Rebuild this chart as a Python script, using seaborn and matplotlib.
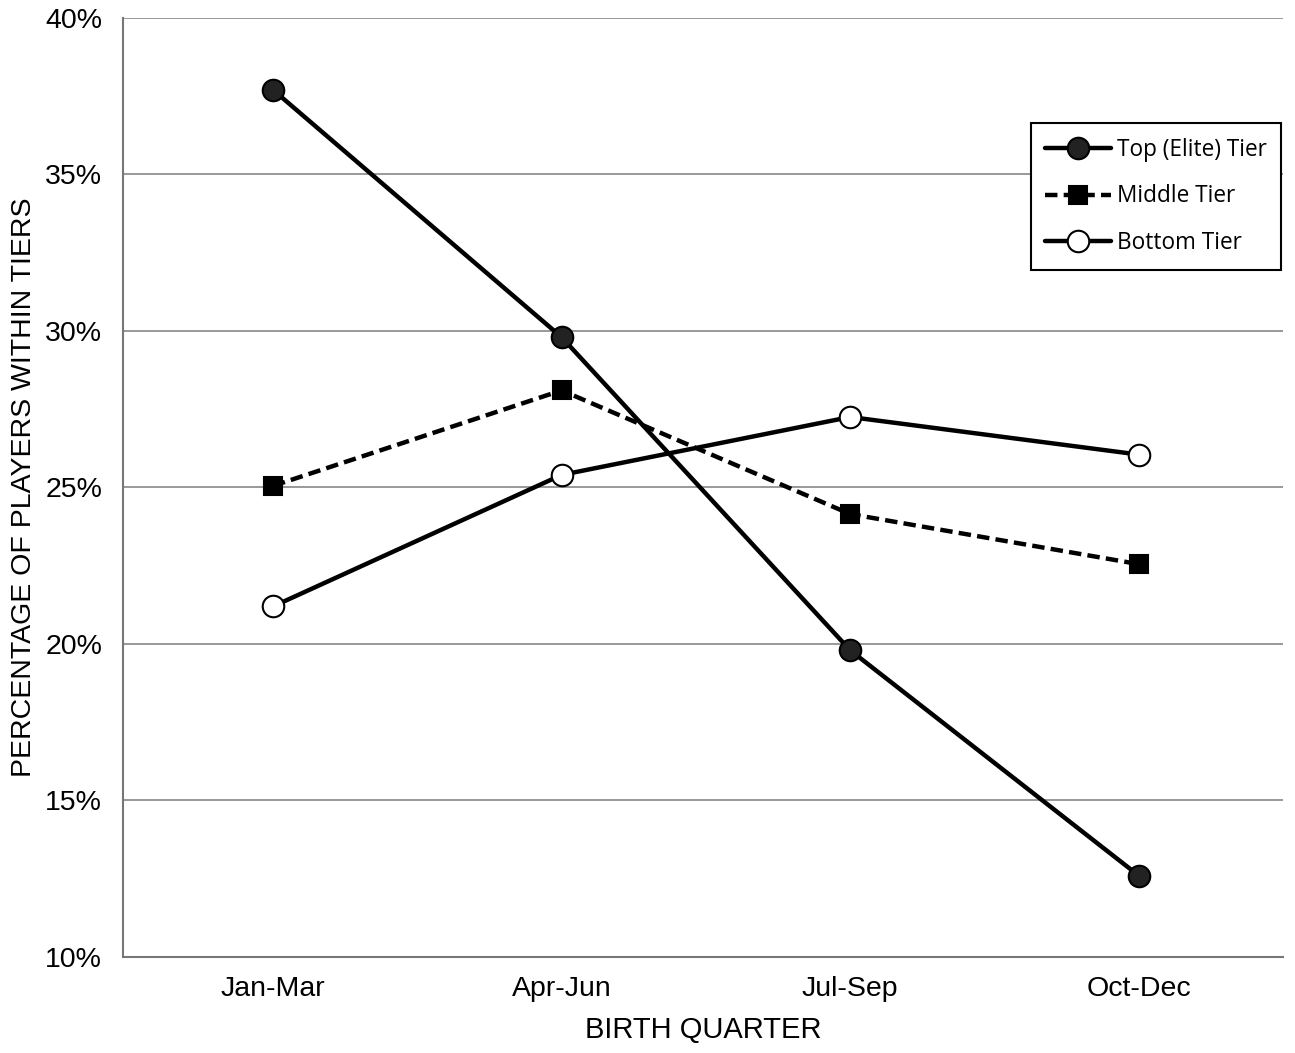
import pandas as pd
import matplotlib.pyplot as plt
import seaborn as sns
from matplotlib.ticker import PercentFormatter

quarters = ['Jan-Mar', 'Apr-Jun', 'Jul-Sep', 'Oct-Dec']
top_tier = [37.7, 29.8, 19.8, 12.6]
middle_tier = [25.05, 28.1, 24.15, 22.55]
bottom_tier = [21.2, 25.4, 27.25, 26.05]
tiers = ['Top (Elite) Tier', 'Middle Tier', 'Bottom Tier']

df = pd.DataFrame({
    'quarter': quarters * 3,
    'pct': top_tier + middle_tier + bottom_tier,
    'tier': [t for t in tiers for _ in quarters],
})

sns.set_style('white')
plt.rcParams['font.family'] = ['Liberation Sans', 'DejaVu Sans']
plt.rcParams['text.color'] = 'black'
plt.rcParams['axes.labelcolor'] = 'black'
plt.rcParams['xtick.color'] = 'black'
plt.rcParams['ytick.color'] = 'black'

fig = plt.figure(figsize=(12.95, 10.53), dpi=100)
ax = fig.add_axes([0.095, 0.0912, 0.8957, 0.8918])

styles = {
    'Top (Elite) Tier': dict(ls='-', marker='o', mfc='#222222', ms=15.5),
    'Middle Tier': dict(ls=(0, (2.8, 1.4)), marker='s', mfc='black', ms=13),
    'Bottom Tier': dict(ls='-', marker='o', mfc='white', ms=15.5),
}
for t in tiers:
    sub = df[df['tier'] == t]
    s = styles[t]
    sns.lineplot(data=sub, x='quarter', y='pct', ax=ax, color='black', lw=3.2,
                 linestyle=s['ls'], marker=s['marker'], markersize=s['ms'],
                 markerfacecolor=s['mfc'], markeredgecolor='black',
                 markeredgewidth=1.5, label=t, zorder=3)

ax.set_xlim(-0.52, 3.5)
ax.set_ylim(10, 40)
ax.set_yticks(range(10, 41, 5))
ax.yaxis.set_major_formatter(PercentFormatter(decimals=0))
ax.grid(axis='y', color='#888888', lw=1.2)
ax.set_axisbelow(True)
for side in ['top', 'right']:
    ax.spines[side].set_visible(False)
for side in ['left', 'bottom']:
    ax.spines[side].set_color('#777777')
    ax.spines[side].set_linewidth(1.5)
ax.tick_params(axis='y', length=5, width=1.2, color='#888888', labelsize=20.5, pad=10)
ax.tick_params(axis='x', length=0, labelsize=20.5, pad=14)
ax.set_xlabel('BIRTH QUARTER', fontsize=21, labelpad=10)
ax.set_ylabel('PERCENTAGE OF PLAYERS WITHIN TIERS', fontsize=20.5, labelpad=6)

leg = ax.legend(loc='upper right', bbox_to_anchor=(0.9985, 0.888),
                frameon=True, fancybox=False, edgecolor='black',
                handlelength=2.9, borderpad=0.65, labelspacing=1.0,
                handletextpad=0.25, borderaxespad=0,
                prop={'family': 'Open Sans', 'size': 16.3})
leg.get_frame().set_linewidth(1.5)
leg.get_frame().set_alpha(1)

fig.savefig('out.png', dpi=100)
